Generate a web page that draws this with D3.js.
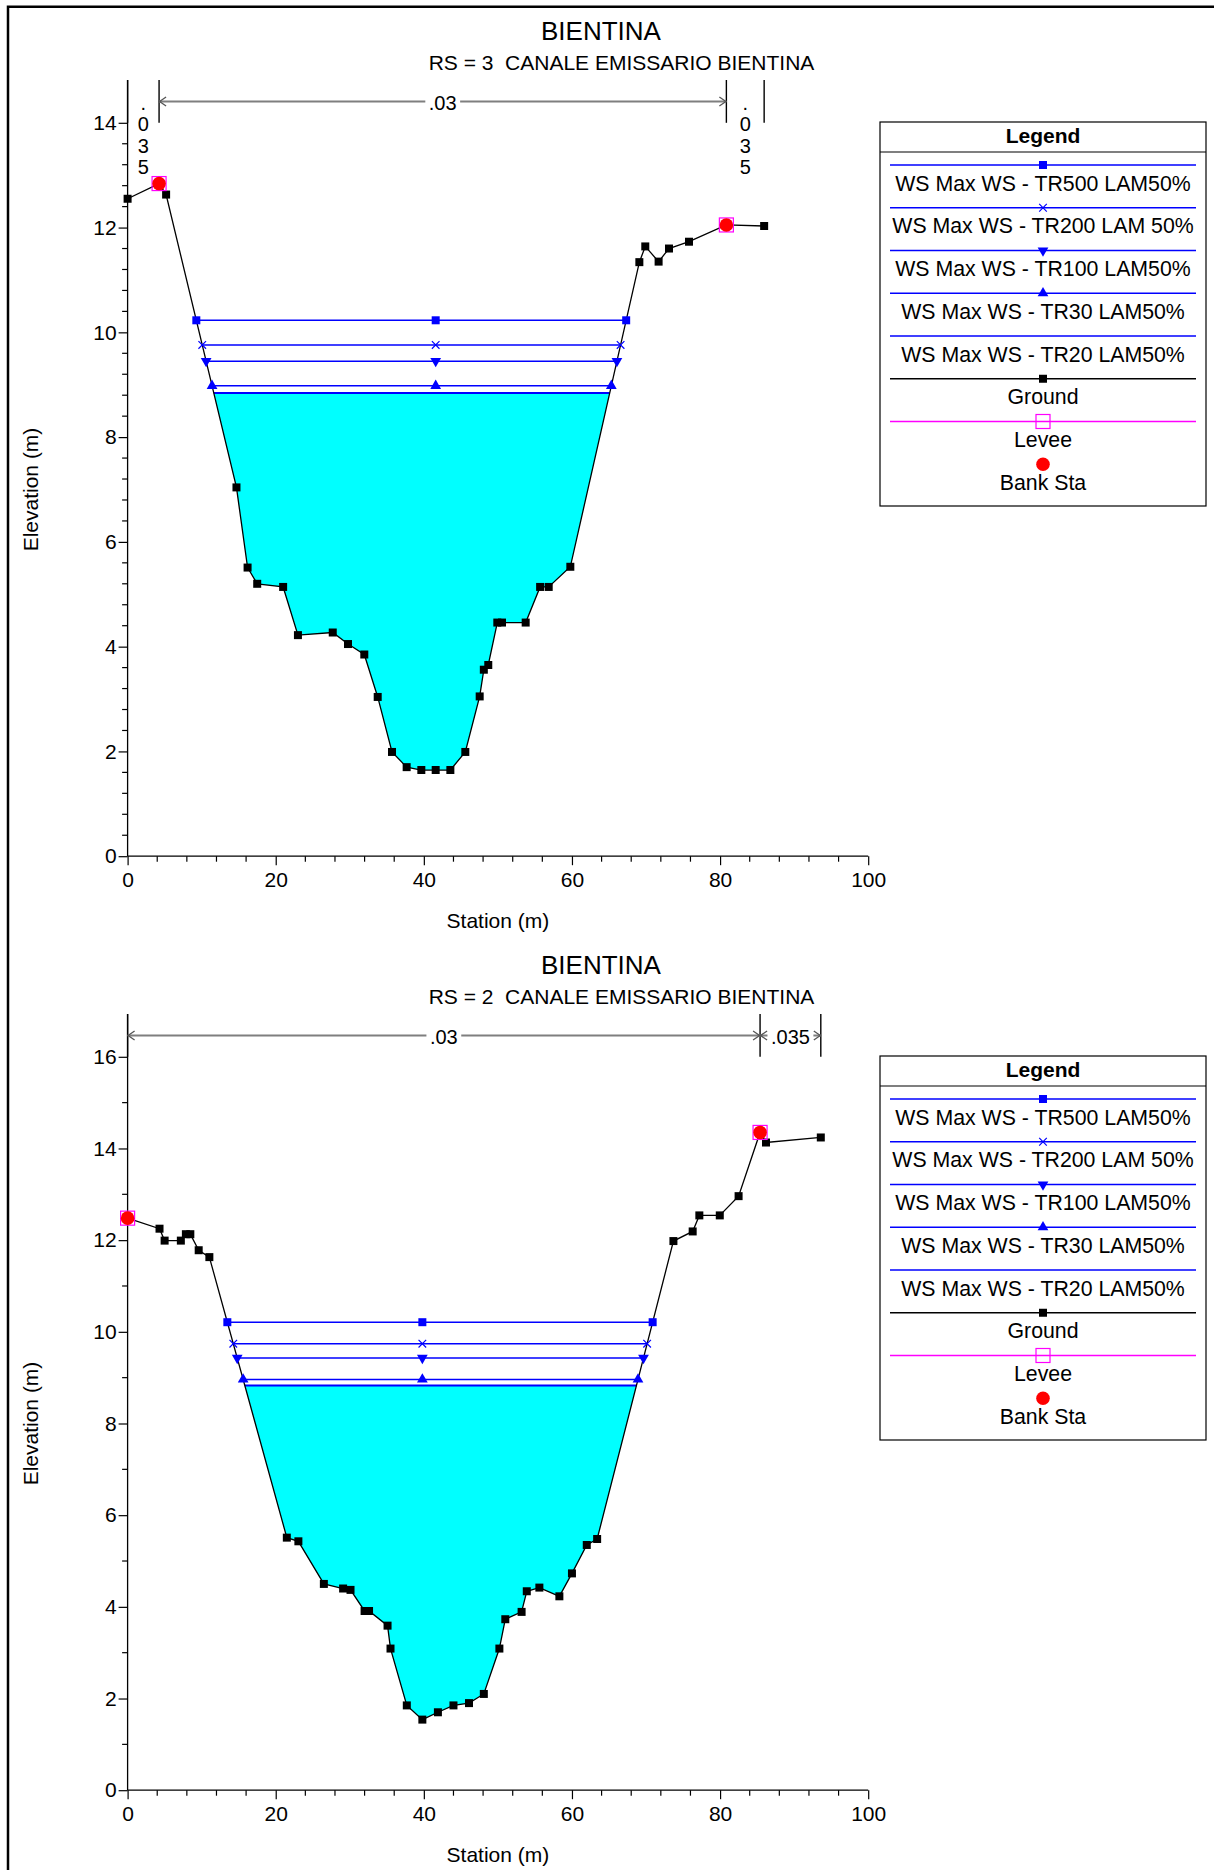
<!DOCTYPE html>
<html><head><meta charset="utf-8">
<script src="https://cdn.jsdelivr.net/npm/d3@7"></script>
<style>
body{margin:0;background:#fff}
svg{display:block}
text{font-family:"Liberation Sans",Arial,Helvetica,sans-serif;fill:#000;white-space:pre}
</style>
</head><body>
<script>
// ---------------- DATA ----------------
const chartTitle = "BIENTINA";
const subtitleRS3 = "RS = 3  CANALE EMISSARIO BIENTINA";
const subtitleRS2 = "RS = 2  CANALE EMISSARIO BIENTINA";
const xAxisTitle = "Station (m)";
const yAxisTitle = "Elevation (m)";

// RS = 3 ground
const station3 = [0, 4.25, 5.2, 14.7, 16.2, 17.5, 21.0, 23.0, 27.7, 29.76, 31.96, 33.77, 35.7, 37.68, 39.66, 41.6, 43.58, 45.6, 47.54, 48.1, 48.7, 49.92, 50.55, 53.75, 55.7, 56.86, 59.78, 69.1, 69.9, 71.7, 73.1, 75.8, 80.85, 85.95];
const elev3    = [12.55, 12.84, 12.63, 7.04, 5.51, 5.2, 5.14, 4.22, 4.27, 4.05, 3.85, 3.04, 1.99, 1.70, 1.645, 1.645, 1.645, 1.99, 3.05, 3.56, 3.65, 4.46, 4.46, 4.46, 5.14, 5.14, 5.525, 11.34, 11.64, 11.35, 11.6, 11.73, 12.05, 12.03];
const bank3 = [4.25, 80.85];
const nBreaks3 = [0, 4.25, 80.85, 85.95];
const nValues3 = [".035", ".03", ".035"];
const wsElev3 = [10.23, 9.76, 9.45, 8.98, 8.84];
const wsMid3 = 41.6;
const yTicks3 = [0, 2, 4, 6, 8, 10, 12, 14];

// RS = 2 ground
const station2 = [0, 4.31, 5.0, 7.19, 7.87, 8.47, 9.6, 11.04, 21.5, 23.06, 26.5, 29.1, 30.1, 32.0, 32.6, 35.1, 35.5, 37.7, 39.8, 41.9, 44.0, 46.1, 48.1, 50.2, 51.0, 53.2, 53.9, 55.6, 58.3, 60.0, 62.0, 63.4, 73.7, 76.3, 77.2, 79.96, 82.5, 85.4, 86.2, 93.6];
const elev2    = [12.48, 12.25, 11.99, 11.99, 12.13, 12.13, 11.78, 11.63, 5.51, 5.43, 4.50, 4.40, 4.37, 3.91, 3.91, 3.59, 3.09, 1.85, 1.54, 1.70, 1.85, 1.90, 2.10, 3.09, 3.73, 3.89, 4.34, 4.42, 4.23, 4.73, 5.35, 5.48, 11.98, 12.19, 12.54, 12.54, 12.96, 14.35, 14.13, 14.24];
const bank2 = [0, 85.4];
const nBreaks2 = [0, 85.4, 93.6];
const nValues2 = [".03", ".035"];
const wsElev2 = [10.21, 9.74, 9.43, 8.96, 8.83];
const wsMid2 = 39.8;
const yTicks2 = [0, 2, 4, 6, 8, 10, 12, 14, 16];

const xTicks = [0, 20, 40, 60, 80, 100];
const wsNames = ["WS Max WS - TR500 LAM50%", "WS Max WS - TR200 LAM 50%", "WS Max WS - TR100 LAM50%", "WS Max WS - TR30 LAM50%", "WS Max WS - TR20 LAM50%"];
const wsSymbols = ["square", "x", "down", "up", "none"];
const legendOther = ["Ground", "Levee", "Bank Sta"];

// ---------------- LAYOUT ----------------
const W = 1214, H = 1870;
const L = 127.6, R = 868.2, PTOP = 80, Y0 = 856.2, YTOP = 122.8;
const BLUE = "#0000ff";

const svg = d3.select("body").append("svg").attr("width", W).attr("height", H);
svg.append("rect").attr("width", W).attr("height", H).attr("fill", "#fff");
svg.append("path").attr("d", `M8,${H} L8,6.8 L${W},6.8`).attr("fill", "none").attr("stroke", "#000").attr("stroke-width", 2.5);

function drawMarker(g, type, cx, cy, color) {
  if (type === "square") {
    g.append("path").attr("d", d3.symbol(d3.symbolSquare, 64)()).attr("transform", `translate(${cx},${cy})`).attr("fill", color);
  } else if (type === "x") {
    const s = 3.8;
    g.append("path").attr("d", `M${cx-s},${cy-s}L${cx+s},${cy+s}M${cx-s},${cy+s}L${cx+s},${cy-s}`).attr("stroke", color).attr("stroke-width", 1.2).attr("fill", "none");
  } else if (type === "up") {
    g.append("path").attr("d", d3.symbol(d3.symbolTriangle, 50)()).attr("transform", `translate(${cx},${cy})`).attr("fill", color);
  } else if (type === "down") {
    g.append("path").attr("d", d3.symbol(d3.symbolTriangle, 50)()).attr("transform", `translate(${cx},${cy}) rotate(180)`).attr("fill", color);
  } else if (type === "ground") {
    g.append("path").attr("d", d3.symbol(d3.symbolSquare, 64)()).attr("transform", `translate(${cx},${cy})`).attr("fill", "#000");
  } else if (type === "levee") {
    g.append("rect").attr("x", cx - 7).attr("y", cy - 7).attr("width", 14).attr("height", 14).attr("fill", "none").attr("stroke", "#ff00ff").attr("stroke-width", 1.2);
  } else if (type === "bank") {
    g.append("circle").attr("cx", cx).attr("cy", cy).attr("r", 6.8).attr("fill", "#ff0000");
  }
}

function wsExtent(sta, elev, ws) {
  let l = null, r = null;
  for (let i = 0; i < sta.length - 1; i++) {
    const a = elev[i], b = elev[i + 1];
    if (l === null && a >= ws && b < ws) l = sta[i] + (a - ws) / (a - b) * (sta[i + 1] - sta[i]);
    if (a < ws && b >= ws) r = sta[i] + (ws - a) / (b - a) * (sta[i + 1] - sta[i]);
  }
  return [l, r];
}

function drawChart(offset, cfg) {
  const g = svg.append("g").attr("transform", `translate(0,${offset})`);
  const x = d3.scaleLinear().domain([0, 100]).range([L, R]);
  const yMax = cfg.yTicks[cfg.yTicks.length - 1];
  const y = d3.scaleLinear().domain([0, yMax]).range([Y0, YTOP]);
  const pts = cfg.sta.map((s, i) => ({ s, e: cfg.elev[i] }));

  // titles
  g.append("text").attr("x", 601).attr("y", 39.5).attr("text-anchor", "middle").attr("font-size", 26).text(chartTitle);
  g.append("text").attr("x", 621.5).attr("y", 70).attr("text-anchor", "middle").attr("font-size", 21).text(cfg.subtitle);

  // axes
  const ax = g.append("g").attr("transform", `translate(0,${Y0})`)
    .call(d3.axisBottom(x).tickValues(xTicks).tickSize(9).tickPadding(7).tickFormat(d3.format("d")));
  ax.select(".domain").remove();
  ax.selectAll("text").attr("font-size", 21).attr("font-family", "Liberation Sans, Arial, sans-serif");
  ax.selectAll("line").attr("stroke", "#000").attr("stroke-width", 1.2);
  const xMinor = d3.range(0, 101, 4).filter(v => !xTicks.includes(v));
  g.append("g").selectAll("line").data(xMinor).join("line")
    .attr("x1", d => x(d)).attr("x2", d => x(d)).attr("y1", Y0).attr("y2", Y0 + 5.5)
    .attr("stroke", "#000").attr("stroke-width", 1.2);
  g.append("line").attr("x1", L).attr("x2", R).attr("y1", Y0).attr("y2", Y0).attr("stroke", "#000").attr("stroke-width", 1.3);

  const ay = g.append("g").attr("transform", `translate(${L},0)`)
    .call(d3.axisLeft(y).tickValues(cfg.yTicks).tickSize(9).tickPadding(2).tickFormat(d3.format("d")));
  ay.select(".domain").remove();
  ay.selectAll("text").attr("font-size", 21).attr("font-family", "Liberation Sans, Arial, sans-serif");
  ay.selectAll("line").attr("stroke", "#000").attr("stroke-width", 1.2);
  const yMinor = d3.range(0, yMax + 1e-9, cfg.yMinorStep).map(v => +v.toFixed(3)).filter(v => !cfg.yTicks.includes(v));
  g.append("g").selectAll("line").data(yMinor).join("line")
    .attr("x1", L - 5.5).attr("x2", L).attr("y1", d => y(d)).attr("y2", d => y(d))
    .attr("stroke", "#000").attr("stroke-width", 1.2);
  g.append("line").attr("x1", L).attr("x2", L).attr("y1", PTOP).attr("y2", Y0).attr("stroke", "#000").attr("stroke-width", 1.3);

  g.append("text").attr("x", (L + R) / 2).attr("y", 928).attr("text-anchor", "middle").attr("font-size", 21).text(xAxisTitle);
  g.append("text").attr("transform", `translate(31,${(Y0 + YTOP) / 2}) rotate(-90)`).attr("dy", "0.35em")
    .attr("text-anchor", "middle").attr("font-size", 21).text(yAxisTitle);

  // Manning's n annotation
  const nb = cfg.nBreaks;
  nb.forEach(b => {
    g.append("line").attr("x1", x(b)).attr("x2", x(b)).attr("y1", PTOP).attr("y2", YTOP)
      .attr("stroke", "#000").attr("stroke-width", 1.4);
  });
  const arrowY = 101.5;
  cfg.nValues.forEach((v, k) => {
    const x0 = x(nb[k]), x1 = x(nb[k + 1]), cx = (x0 + x1) / 2;
    if (x1 - x0 < 45) {
      v.split("").forEach((ch, j) => {
        g.append("text").attr("x", cx).attr("y", 110 + j * 21.4).attr("text-anchor", "middle").attr("font-size", 20).text(ch);
      });
    } else {
      const t = g.append("text").attr("x", cx).attr("y", 109.5).attr("text-anchor", "middle").attr("font-size", 20).text(v);
      const tw = t.node().getComputedTextLength();
      const gapL = cx - tw / 2 - 3.5, gapR = cx + tw / 2 + 3.5;
      g.append("path").attr("d", `M${x0},${arrowY}L${gapL},${arrowY}M${gapR},${arrowY}L${x1},${arrowY}`)
        .attr("stroke", "#7f7f7f").attr("stroke-width", 2).attr("fill", "none");
      g.append("path").attr("d", `M${x0 + 7},${arrowY - 4.5}L${x0 + 0.5},${arrowY}L${x0 + 7},${arrowY + 4.5}M${x1 - 7},${arrowY - 4.5}L${x1 - 0.5},${arrowY}L${x1 - 7},${arrowY + 4.5}`)
        .attr("stroke", "#555").attr("stroke-width", 1.3).attr("fill", "none");
    }
  });

  // water fill (lowest profile), limited to the wetted width
  const wsLow = cfg.wsElev[cfg.wsElev.length - 1];
  const [fl, fr] = wsExtent(cfg.sta, cfg.elev, wsLow);
  const clipId = "clip" + offset;
  g.append("clipPath").attr("id", clipId).append("rect")
    .attr("x", x(fl)).attr("y", y(wsLow)).attr("width", x(fr) - x(fl)).attr("height", Y0 - y(wsLow));
  g.append("path").datum(pts).attr("clip-path", `url(#${clipId})`)
    .attr("d", d3.area().x(d => x(d.s)).y0(y(wsLow)).y1(d => y(d.e)))
    .attr("fill", "#00ffff");

  // WS lines
  cfg.wsElev.forEach((ws, i) => {
    const [sl, sr] = wsExtent(cfg.sta, cfg.elev, ws);
    g.append("line").attr("x1", x(sl)).attr("x2", x(sr)).attr("y1", y(ws)).attr("y2", y(ws))
      .attr("stroke", BLUE).attr("stroke-width", i === cfg.wsElev.length - 1 ? 2 : 1.5);
  });

  // ground
  g.append("path").datum(pts).attr("d", d3.line().x(d => x(d.s)).y(d => y(d.e)))
    .attr("fill", "none").attr("stroke", "#000").attr("stroke-width", 1.3);
  pts.forEach(p => drawMarker(g, "ground", x(p.s), y(p.e)));

  // WS markers
  cfg.wsElev.forEach((ws, i) => {
    if (wsSymbols[i] === "none") return;
    const [sl, sr] = wsExtent(cfg.sta, cfg.elev, ws);
    [sl, cfg.wsMid, sr].forEach(s => drawMarker(g, wsSymbols[i], x(s), y(ws), BLUE));
  });

  // bank stations
  cfg.bank.forEach(b => {
    const i = cfg.sta.indexOf(b);
    drawMarker(g, "levee", x(b), y(cfg.elev[i]));
    drawMarker(g, "bank", x(b), y(cfg.elev[i]));
  });

  // legend
  const lg = g.append("g");
  const bx0 = 880, bx1 = 1206, by0 = 122, by1 = 506;
  lg.append("rect").attr("x", bx0).attr("y", by0).attr("width", bx1 - bx0).attr("height", by1 - by0)
    .attr("fill", "#fff").attr("stroke", "#000").attr("stroke-width", 1.2);
  lg.append("text").attr("x", 1043).attr("y", 142.5).attr("text-anchor", "middle").attr("font-size", 21).attr("font-weight", "bold").text("Legend");
  lg.append("line").attr("x1", bx0).attr("x2", bx1).attr("y1", 152).attr("y2", 152).attr("stroke", "#000").attr("stroke-width", 1.2);
  const step = 42.75, ly0 = 165;
  const entries = wsNames.map((n, i) => ({ name: n, line: BLUE, sym: wsSymbols[i], color: BLUE }))
    .concat([{ name: legendOther[0], line: "#000", sym: "ground", color: "#000" },
             { name: legendOther[1], line: "#ff00ff", sym: "levee", color: "#ff00ff" },
             { name: legendOther[2], line: null, sym: "bank", color: "#ff0000" }]);
  entries.forEach((e, i) => {
    const ly = ly0 + i * step;
    if (e.line) lg.append("line").attr("x1", 890).attr("x2", 1196).attr("y1", ly).attr("y2", ly)
      .attr("stroke", e.line).attr("stroke-width", 1.5);
    if (e.sym !== "none") drawMarker(lg, e.sym, 1043, ly, e.color);
    lg.append("text").attr("x", 1043).attr("y", ly + 25.7).attr("text-anchor", "middle").attr("font-size", 21.3).text(e.name);
  });
}

drawChart(0, { subtitle: subtitleRS3, sta: station3, elev: elev3, bank: bank3, nBreaks: nBreaks3, nValues: nValues3,
  wsElev: wsElev3, wsMid: wsMid3, yTicks: yTicks3, yMinorStep: 0.4 });
drawChart(934, { subtitle: subtitleRS2, sta: station2, elev: elev2, bank: bank2, nBreaks: nBreaks2, nValues: nValues2,
  wsElev: wsElev2, wsMid: wsMid2, yTicks: yTicks2, yMinorStep: 1 });
</script>
</body></html>
